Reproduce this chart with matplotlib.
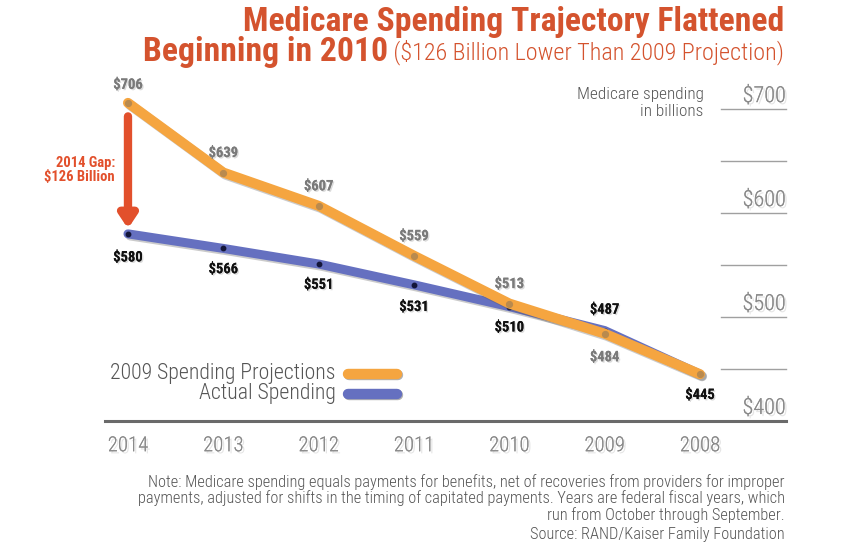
import matplotlib
matplotlib.use("Agg")
import matplotlib.pyplot as plt
import matplotlib.patheffects as pe
from matplotlib import font_manager
from matplotlib.transforms import blended_transform_factory

_names = {f.name for f in font_manager.fontManager.ttflist}
_main = next((n for n in ['Liberation Sans Narrow', 'Roboto Condensed', 'Arial Narrow',
                          'Liberation Sans'] if n in _names), 'DejaVu Sans')
NARROW = [_main, 'DejaVu Sans']

years = [2008, 2009, 2010, 2011, 2012, 2013, 2014]
projected = [445, 484, 513, 559, 607, 639, 706]
actual = [445, 487, 510, 531, 551, 566, 580]
proj_labels = ['', '$484', '$513', '$559', '$607', '$639', '$706']
act_labels = ['$445', '$487', '$510', '$531', '$551', '$566', '$580']
# label offsets (points): + above, - below
proj_off = [0, -17, 14, 14, 14, 14, 13]
act_off = [-15, 15, -15, -16, -15, -15, -17]
ytick_vals = [400, 500, 600, 700]
grid_vals = [450, 500, 550, 600, 650, 700]

ORANGE = '#F5A540'
BLUE = '#6570C0'
RED = '#E2502C'
TITLE = '#D4532E'
LIGHT = 'light'

fig = plt.figure(figsize=(8.49, 5.51), dpi=100)
fig.patch.set_facecolor('white')
ax = fig.add_axes([105/849, (551-421)/551, 681/849, (421-80)/551])
ax.set_xlim(2014.241, 2007.098)
ax.set_ylim(400, 728)
for s in ['top', 'right', 'left']:
    ax.spines[s].set_visible(False)
ax.spines['bottom'].set_color('#6a6a6a')
ax.spines['bottom'].set_linewidth(2.2)
ax.set_yticks([])
ax.set_xticks(years)
ax.set_xticklabels([str(y) for y in years], fontsize=15, color='#8a8a8a',
                   family=NARROW, fontweight=LIGHT)
ax.tick_params(axis='x', length=0, pad=11)
for lab in ax.get_xticklabels():
    lab.set_path_effects([pe.withSimplePatchShadow(offset=(1.5, -1.5), alpha=0.25, shadow_rgbFace='#999999'), pe.Normal()])

# right-side short grid lines
trans = blended_transform_factory(ax.transAxes, ax.transData)
for v in grid_vals:
    ax.plot([0.9046, 1.0], [v, v], transform=trans, color='#a0a0a0', lw=1, clip_on=False)
for v in ytick_vals:
    t = ax.text(1.0, v + 12, f'${v}', transform=trans, ha='right', va='center',
                fontsize=16, color='#8a8a8a', family=NARROW, fontweight=LIGHT)
    t.set_path_effects([pe.withSimplePatchShadow(offset=(1.5, -1.5), alpha=0.25, shadow_rgbFace='#999999'), pe.Normal()])

med = ax.text(0.879, 706, 'Medicare spending\nin billions', transform=trans, ha='right',
              va='center', fontsize=11, color='#555555', family=NARROW, linespacing=1.15,
              fontweight=LIGHT)

shadow = [pe.SimpleLineShadow(offset=(1.5, -1.5), alpha=0.3, shadow_color='#555555'), pe.Normal()]
ax.plot(years, actual, color=BLUE, lw=6.5, solid_capstyle='round', zorder=3,
        path_effects=shadow, label='Actual Spending')
ax.plot(years, projected, color=ORANGE, lw=7.2, solid_capstyle='round', zorder=4,
        path_effects=shadow, label='2009 Spending Projections')
ax.plot(years, actual, 'o', color='#14163a', ms=3.2, zorder=3.5)
ax.plot(years, projected, 'o', color='#b98a4e', ms=4.2, zorder=5)

lab_shadow = [pe.withSimplePatchShadow(offset=(1, -1), alpha=0.3, shadow_rgbFace='#888888'), pe.Normal()]
for x, y, l, o in zip(years, projected, proj_labels, proj_off):
    if l:
        t = ax.annotate(l, (x, y), xytext=(0, o), textcoords='offset points', ha='center',
                        va='center', fontsize=10.5, fontweight='bold', color='#7a7a7a',
                        family=NARROW, zorder=6)
        t.set_path_effects(lab_shadow)
for x, y, l, o in zip(years, actual, act_labels, act_off):
    t = ax.annotate(l, (x, y), xytext=(0, o), textcoords='offset points', ha='center',
                    va='center', fontsize=10.5, fontweight='bold', color='#111111',
                    family=NARROW, zorder=6)
    t.set_path_effects(lab_shadow)

# gap arrow
ax.annotate('', xy=(2014, actual[-1] + 5), xytext=(2014, projected[-1] - 13),
            arrowprops=dict(arrowstyle='-|>,head_width=0.5,head_length=0.75',
                            color=RED, lw=6, shrinkA=0, shrinkB=0), zorder=7)
gap = ax.text(2014 + 13/95.33, 641, '2014 Gap:\n$126 Billion', ha='right', va='center',
              fontsize=10.5, fontweight='bold', color=RED, family=NARROW, linespacing=1.0)

# legend (mirrored layout: swatch at right of text)
leg_items = [('2009 Spending Projections', ORANGE, 374), ('Actual Spending', BLUE, 394)]
leg_texts = []
for name, c, ypx in leg_items:
    yf = (551 - ypx) / 551
    fig.add_artist(plt.Line2D([348/849, 397/849], [yf, yf], color=c, lw=7.5,
                              solid_capstyle='round',
                              path_effects=[pe.SimpleLineShadow(offset=(1, -1), alpha=0.3), pe.Normal()]))
    leg_texts.append(fig.text(336/849, yf, name, ha='right', va='center', fontsize=13,
                              color='#555555', family=NARROW, fontweight=LIGHT))

# titles
t1 = fig.text(784/849, (551-22)/551, 'Medicare Spending Trajectory Flattened', ha='right',
              va='center', fontsize=20, fontweight='bold', color=TITLE, family=NARROW)
t2 = fig.text(784/849, (551-52)/551, ' ($126 Billion Lower Than 2009 Projection)',
              ha='right', va='center', fontsize=16, color=TITLE, family=NARROW,
              fontweight=LIGHT)

note = ('Note: Medicare spending equals payments for benefits, net of recoveries from providers for improper\n'
        'payments, adjusted for shifts in the timing of capitated payments. Years are federal fiscal years, which\n'
        'run from October through September.')
tn = fig.text(785/849, (551-474)/551, note, ha='right', va='top', fontsize=10.5,
              color='#555555', family=NARROW, linespacing=1.05, fontweight=LIGHT)
ts = fig.text(785/849, (551-535)/551, 'Source: RAND/Kaiser Family Foundation', ha='right',
              va='center', fontsize=10.5, color='#555555', family=NARROW, fontweight=LIGHT)


def fit(t, width_px):
    fig.canvas.draw()
    r = fig.canvas.get_renderer()
    for _ in range(2):
        w = t.get_window_extent(r).width
        t.set_fontsize(t.get_fontsize() * width_px / w)


fit(t1, 540)
fit(tn, 648)
ts.set_fontsize(tn.get_fontsize())
fit(leg_texts[0], 225)
leg_texts[1].set_fontsize(leg_texts[0].get_fontsize())
fit(med, 126)

# second title line: bold part + normal part, total width ~640px
fig.canvas.draw()
r = fig.canvas.get_renderer()
b2 = fig.text(784/849, (551-52)/551, 'Beginning in 2010', ha='right', va='center',
              fontsize=t1.get_fontsize(), fontweight='bold', color=TITLE, family=NARROW)
wb = b2.get_window_extent(r).width
fit(t2, 640 - wb)
fig.canvas.draw()
bb = t2.get_window_extent(r)
b2.set_x(bb.x0 / 849)

fig.savefig('out.png', dpi=100, facecolor='white')
